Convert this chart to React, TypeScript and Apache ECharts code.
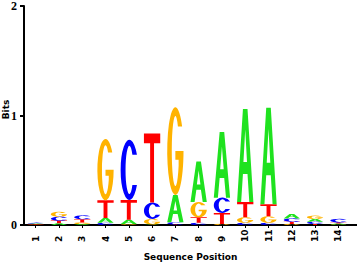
import React, { useEffect, useRef } from "react";
import * as echarts from "echarts";

// Sequence positions (x axis)
const POSITIONS = [1, 2, 3, 4, 5, 6, 7, 8, 9, 10, 11, 12, 13, 14];
// Information content (bits) for each nucleotide at each position
const A_BITS = [0.006, 0.015, 0.008, 0.045, 0.04, 0.005, 0.25, 0.37, 0.6, 0.85, 0.88, 0.04, 0.025, 0.008];
const C_BITS = [0.006, 0.035, 0.035, 0.02, 0.55, 0.15, 0.02, 0.02, 0.14, 0.02, 0.02, 0.03, 0.02, 0.03];
const G_BITS = [0.004, 0.045, 0.015, 0.56, 0.008, 0.05, 0.8, 0.14, 0.01, 0.05, 0.06, 0.01, 0.03, 0.005];
const T_BITS = [0.004, 0.025, 0.03, 0.16, 0.18, 0.63, 0.005, 0.05, 0.1, 0.14, 0.11, 0.02, 0.01, 0.012];
const Y_TICKS = [0, 1, 2];

const LETTERS = ["A", "C", "G", "T"];
const COLORS = ["#1fe21f", "#0000ff", "#ffb300", "#ff0000"];
const GLYPHS = [
  "M0 100L36 0H64L100 100H75L64 70H36L25 100ZM50 22L39 57H61Z",
  "M93.3 25A50 50 0 1 0 93.3 75L67.2 75A22 40 0 1 1 67.2 25Z",
  "M91.4 22A50 50 0 1 0 100 50L50 50L50 60L70 60L70 66.7A22 40 0 1 1 65.7 22Z",
  "M0 0H100V14H62V100H38V14H0Z",
];

export default function App() {
  const ref = useRef<HTMLDivElement>(null);
  useEffect(() => {
    if (!ref.current) return;
    const chart = echarts.init(ref.current, null, { renderer: "svg" });
    const columns = [A_BITS, C_BITS, G_BITS, T_BITS];
    const data: number[][] = [];
    POSITIONS.forEach((p, i) => {
      const order = [0, 1, 2, 3].sort((a, b) => columns[a][i] - columns[b][i]);
      let base = 0;
      order.forEach((li) => {
        const v = columns[li][i];
        data.push([p, base, base + v, li]);
        base += v;
      });
    });
    const axisFont = { fontFamily: "DejaVu Sans", fontWeight: "bold" as const, fontSize: 9, color: "#000" };
    chart.setOption({
      animation: false,
      backgroundColor: "#fff",
      grid: { left: 24, right: 0, top: 6, bottom: 41, outerBoundsMode: "none" },
      xAxis: {
        type: "value",
        min: 0.5,
        max: 14.8,
        name: "Sequence Position",
        nameLocation: "middle",
        nameGap: 27,
        nameMoveOverlap: false,
        nameTextStyle: axisFont,
        axisLine: { show: true, lineStyle: { color: "#000", width: 2 } },
        axisTick: { show: true, customValues: POSITIONS, length: 3, lineStyle: { color: "#000" } },
        axisLabel: {
          customValues: POSITIONS,
          rotate: 90,
          align: "left",
          verticalAlign: "middle",
          margin: 17,
          ...axisFont,
        },
        splitLine: { show: false },
      },
      yAxis: {
        type: "value",
        min: 0,
        max: 2,
        interval: 1,
        name: "Bits",
        nameLocation: "middle",
        nameGap: 14,
        nameRotate: 90,
        nameMoveOverlap: false,
        nameTextStyle: { ...axisFont, padding: [0, 0, 0, 12] },
        axisLine: { show: true, lineStyle: { color: "#000", width: 2 } },
        axisTick: { show: true, length: 4, lineStyle: { color: "#000", width: 2 } },
        axisLabel: {
          margin: 7,
          fontFamily: "Liberation Sans Narrow",
          fontWeight: "bold",
          fontSize: 12,
          color: "#000",
          formatter: (v: number) => (Y_TICKS.includes(v) ? String(v) : ""),
        },
        splitLine: { show: false },
      },
      series: [
        {
          type: "custom",
          name: "logo",
          clip: false,
          data,
          dimensions: ["position", "start", "end", "letter"],
          encode: { x: 0, y: [1, 2] },
          renderItem: (params: any, api: any) => {
            const x = api.value(0);
            const y0 = api.value(1);
            const y1 = api.value(2);
            const li = api.value(3);
            const pb = api.coord([x, y0]);
            const pt = api.coord([x, y1]);
            const w = api.size([1, 0])[0] * 0.7;
            const h = pb[1] - pt[1];
            if (h < 0.05) return null;
            return {
              type: "path",
              name: LETTERS[li],
              shape: { pathData: GLYPHS[li], layout: "cover", x: pb[0] - w / 2, y: pt[1], width: w, height: h },
              style: { fill: COLORS[li] },
            };
          },
        },
      ],
    });
    return () => chart.dispose();
  }, []);
  return <div ref={ref} style={{ position: "fixed", left: 0, top: 0, width: 357, height: 266 }} />;
}
